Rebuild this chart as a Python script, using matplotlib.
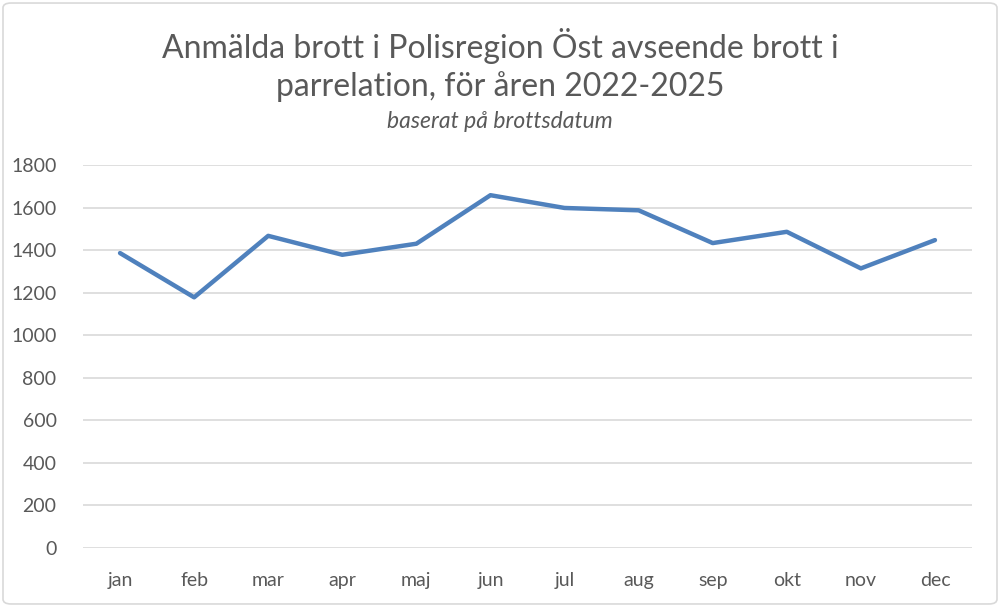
import matplotlib
matplotlib.use("Agg")
import matplotlib.pyplot as plt
from matplotlib.patches import FancyBboxPatch

months = ["jan", "feb", "mar", "apr", "maj", "jun", "jul", "aug", "sep", "okt", "nov", "dec"]
values = [1386, 1178, 1467, 1378, 1430, 1658, 1598, 1587, 1433, 1486, 1314, 1447]
yticks = [0, 200, 400, 600, 800, 1000, 1200, 1400, 1600, 1800]

title = "Anmälda brott i Polisregion Öst avseende brott i\nparrelation, för åren 2022-2025"
subtitle = "baserat på brottsdatum"

plt.rcParams["font.family"] = ["Lato", "DejaVu Sans"]
grey = "#595959"

fig = plt.figure(figsize=(10, 6.07), dpi=100)
ax = fig.add_axes([0.083, 0.0972, 0.889, 0.631])

x = range(len(months))
ax.plot(x, values, color="#4F81BD", linewidth=3.2, solid_capstyle="round", solid_joinstyle="round")

ax.set_ylim(0, 1800)
ax.set_xlim(-0.5, len(months) - 0.5)
ax.set_yticks(yticks)
ax.set_xticks(list(x))
ax.set_xticklabels(months)
ax.grid(axis="y", color="#d9d9d9", linewidth=1.2)
ax.set_axisbelow(True)
for s in ax.spines.values():
    s.set_visible(False)
ax.tick_params(length=0, labelsize=14, labelcolor=grey)
ax.tick_params(axis="y", pad=19)
ax.tick_params(axis="x", pad=17)

fig.text(0.5, 0.893, title, ha="center", va="center", fontsize=23, color=grey, linespacing=1.27)
fig.text(0.5, 0.8, subtitle, ha="center", va="center", fontsize=16.5, color=grey, style="italic")

border = FancyBboxPatch((0.003, 0.005), 0.994, 0.99, boxstyle="round,pad=0,rounding_size=0.008",
                        transform=fig.transFigure, fill=False, edgecolor="#d9d9d9", linewidth=1.2)
fig.patches.append(border)

fig.savefig("out.png", dpi=100)
